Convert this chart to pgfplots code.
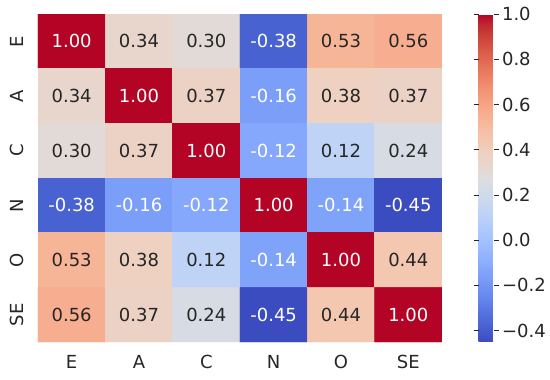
\documentclass[border=0pt]{standalone}
\usepackage{fontspec}
\setmainfont{DejaVu Sans}
\usepackage{pgfplots}
\usepackage{pgfplotstable}
\pgfplotsset{compat=1.18}
\definecolor{txt}{RGB}{38,38,38}
\newcommand{\fs}{\fontsize{18}{21}\selectfont}

\pgfplotstableread{
x y c
0 0 1.00
1 0 0.34
2 0 0.30
3 0 -0.38
4 0 0.53
5 0 0.56
0 1 0.34
1 1 1.00
2 1 0.37
3 1 -0.16
4 1 0.38
5 1 0.37
0 2 0.30
1 2 0.37
2 2 1.00
3 2 -0.12
4 2 0.12
5 2 0.24
0 3 -0.38
1 3 -0.16
2 3 -0.12
3 3 1.00
4 3 -0.14
5 3 -0.45
0 4 0.53
1 4 0.38
2 4 0.12
3 4 -0.14
4 4 1.00
5 4 0.44
0 5 0.56
1 5 0.37
2 5 0.24
3 5 -0.45
4 5 0.44
5 5 1.00
}\corr

\pgfplotstableread{
x y lab
1 0 0.34
2 0 0.30
4 0 0.53
5 0 0.56
0 1 0.34
2 1 0.37
4 1 0.38
5 1 0.37
0 2 0.30
1 2 0.37
4 2 0.12
5 2 0.24
0 4 0.53
1 4 0.38
2 4 0.12
5 4 0.44
0 5 0.56
1 5 0.37
2 5 0.24
4 5 0.44
}\darklab

\pgfplotstableread{
x y lab
0 0 1.00
3 0 -0.38
1 1 1.00
3 1 -0.16
2 2 1.00
3 2 -0.12
0 3 -0.38
1 3 -0.16
2 3 -0.12
3 3 1.00
4 3 -0.14
5 3 -0.45
3 4 -0.14
4 4 1.00
3 5 -0.45
5 5 1.00
}\whitelab

\begin{document}
\begin{tikzpicture}
\path[use as bounding box] (-38pt,-38pt) rectangle (512pt,342pt);
\begin{axis}[
  at={(0pt,0pt)}, anchor=south west,
  scale only axis, width=404pt, height=328pt,
  xmin=-0.5, xmax=5.5, ymin=-0.5, ymax=5.5, y dir=reverse,
  axis line style={draw=none},
  xtick={0,...,5}, ytick={0,...,5},
  xticklabels={E,A,C,N,O,SE}, yticklabels={E,A,C,N,O,SE},
  major tick length=0pt, tick style={draw=none},
  xticklabel shift=10pt, yticklabel shift=11pt,
  yticklabel style={rotate=90, anchor=south},
  font=\fs,
  tick label style={text=txt, font=\fs},
  colormap={coolwarm}{
    rgb255=(59,76,192) rgb255=(68,90,204) rgb255=(77,104,215) rgb255=(87,117,225)
    rgb255=(98,130,234) rgb255=(108,142,241) rgb255=(119,154,247) rgb255=(130,165,251)
    rgb255=(141,176,254) rgb255=(152,185,255) rgb255=(163,194,255) rgb255=(174,201,253)
    rgb255=(184,208,249) rgb255=(194,213,244) rgb255=(204,217,238) rgb255=(213,219,230)
    rgb255=(221,221,221) rgb255=(229,216,209) rgb255=(236,211,197) rgb255=(241,204,185)
    rgb255=(245,196,173) rgb255=(247,187,160) rgb255=(247,177,148) rgb255=(247,166,135)
    rgb255=(244,154,123) rgb255=(241,141,111) rgb255=(236,127,99) rgb255=(229,112,88)
    rgb255=(222,96,77) rgb255=(213,80,66) rgb255=(203,62,56) rgb255=(192,40,47)
    rgb255=(180,4,38)},
  point meta min=-0.45, point meta max=1.0,
  colorbar,
  colorbar style={
    at={(parent axis.north east)}, anchor=north west, xshift=28pt,
    scale only axis, width=15pt, height=328pt,
    axis line style={draw=none},
    ytick={-0.4,-0.2,0,0.2,0.4,0.6,0.8,1.0},
    yticklabels={−0.4,−0.2,0.0,0.2,0.4,0.6,0.8,1.0},
    yticklabel pos=right,
    major tick length=5pt, tick align=outside,
    ytick style={draw=txt, line width=0.9pt},
    yticklabel style={text=txt, font=\fs},
  },
]
\addplot[matrix plot*, mesh/cols=6, mesh/ordering=x varies, point meta=explicit]
  table[x=x, y=y, meta=c] {\corr};
\addplot[only marks, mark=none, point meta=explicit symbolic,
  nodes near coords, nodes near coords align=center,
  every node near coord/.append style={anchor=center, text=txt, font=\fs}]
  table[x=x, y=y, meta=lab] {\darklab};
\addplot[only marks, mark=none, point meta=explicit symbolic,
  nodes near coords, nodes near coords align=center,
  every node near coord/.append style={anchor=center, text=white, font=\fs}]
  table[x=x, y=y, meta=lab] {\whitelab};
\end{axis}
\end{tikzpicture}
\end{document}
